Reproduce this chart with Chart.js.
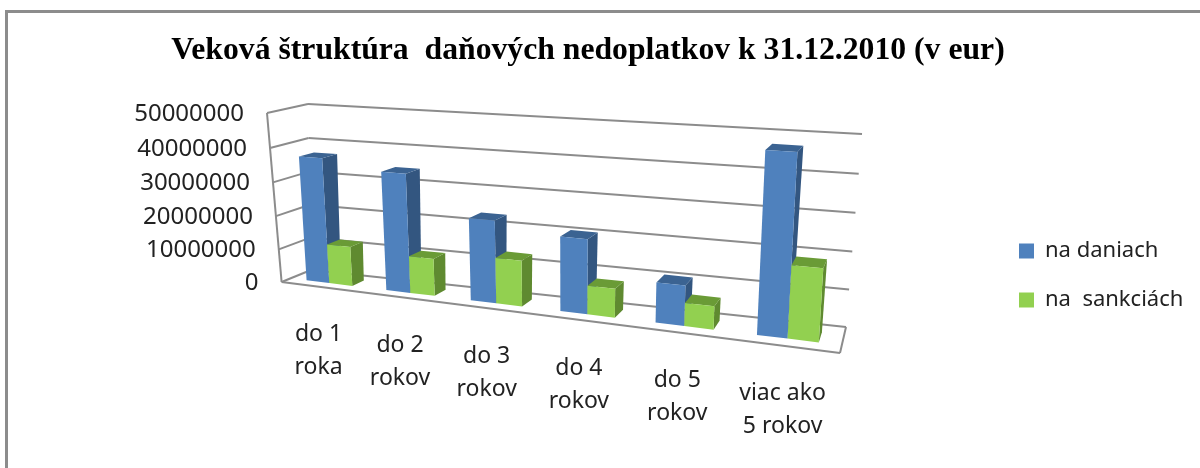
<!DOCTYPE html>
<html>
<head>
<meta charset="utf-8">
<style>
    html, body { margin: 0; padding: 0; background: #fff; overflow: hidden; }
    #ramec { position: absolute; left: 5px; top: 10px; width: 1300px; height: 600px; border: 3px solid #8c8c8c; }
    #graf { position: absolute; left: 0; top: 0; }
</style>
<script src="https://cdn.jsdelivr.net/npm/chart.js@4/dist/chart.umd.min.js"></script>
</head>
<body>
<div id="ramec"></div>
<canvas id="graf" width="1200" height="468"></canvas>
<script>
// Hodnoty odčítané z obrázka.
const kategorie = [['do 1', 'roka'], ['do 2', 'rokov'], ['do 3', 'rokov'], ['do 4', 'rokov'], ['do 5', 'rokov'], ['viac ako', '5 rokov']];
const naDaniach = [37000000, 34500000, 23500000, 20800000, 11000000, 47500000];
const naSankciach = [11700000, 10800000, 13000000, 8000000, 6300000, 19200000];
const nazovGrafu = 'Veková štruktúra  daňových nedoplatkov k 31.12.2010 (v eur)';

// Rohy krabice grafu v pixeloch: predná a zadná stena.
const predna = [[281.6, 282], [840, 353], [852, 150], [267, 113]];
const zadna = [[311, 270], [846, 327], [862, 134], [308, 104]];
const hlbkaStlpca = [0.3, 0.7];
const sivaCiara = '#8c8c8c';

// Homografia zo štvorca (u, v) na štvoruholník.
function homografia(q) {
    const [[x0, y0], [x1, y1], [x2, y2], [x3, y3]] = q;
    const dx1 = x1 - x2, dx2 = x3 - x2, sx = x0 - x1 + x2 - x3;
    const dy1 = y1 - y2, dy2 = y3 - y2, sy = y0 - y1 + y2 - y3;
    const det = dx1 * dy2 - dx2 * dy1;
    const g = (sx * dy2 - dx2 * sy) / det;
    const h = (dx1 * sy - sx * dy1) / det;
    return (u, v) => {
        const w = g * u + h * v + 1;
        return [
            ((x1 - x0 + g * x1) * u + (x3 - x0 + h * x3) * v + x0) / w,
            ((y1 - y0 + g * y1) * u + (y3 - y0 + h * y3) * v + y0) / w
        ];
    };
}
const hPredna = homografia(predna);
const hZadna = homografia(zadna);

// Bod v priestore grafu: u, v v rozsahu plochy grafu, d je hĺbka (0 vpredu, 1 vzadu).
function bod(u, v, d) {
    const a = hPredna(u, v), b = hZadna(u, v);
    return [a[0] + (b[0] - a[0]) * d, a[1] + (b[1] - a[1]) * d];
}

function plocha(ctx, body, farba) {
    ctx.beginPath();
    body.forEach((p, i) => i ? ctx.lineTo(p[0], p[1]) : ctx.moveTo(p[0], p[1]));
    ctx.closePath();
    ctx.fillStyle = farba;
    ctx.fill();
}

function ciara(ctx, a, b) {
    ctx.beginPath();
    ctx.moveTo(a[0], a[1]);
    ctx.lineTo(b[0], b[1]);
    ctx.stroke();
}

const graf3d = {
    id: 'graf3d',
    // Titulok a legendu umiestnime ako v predlohe.
    afterLayout(chart) {
        chart.titleBlock.left = 0;
        chart.titleBlock.right = 1176;
        chart.titleBlock.top = 22;
        chart.titleBlock.bottom = 62;
        chart.legend.left = 992;
        chart.legend.right = 1200;
        chart.legend.top = 213;
        chart.legend.bottom = 468;
    },
    // Stĺpce sa kreslia v perspektíve, pozície berú z elementov Chart.js.
    beforeDatasetsDraw(chart) {
        const { ctx, chartArea: ca, scales } = chart;
        const U = x => (x - ca.left) / (ca.right - ca.left);
        const V = y => (ca.bottom - y) / (ca.bottom - ca.top);
        const hodnotyY = scales.y.ticks;

        ctx.save();
        ctx.strokeStyle = sivaCiara;
        ctx.lineWidth = 2;
        hodnotyY.forEach(t => {
            const v = V(scales.y.getPixelForValue(t.value));
            ciara(ctx, bod(0, v, 0), bod(0, v, 1));
            ciara(ctx, bod(0, v, 1), bod(1, v, 1));
        });
        ciara(ctx, bod(0, 0, 0), bod(0, 1, 0));
        ciara(ctx, bod(0, 0, 0), bod(1, 0, 0));
        ciara(ctx, bod(1, 0, 0), bod(1, 0, 1));

        const [d0, d1] = hlbkaStlpca;
        kategorie.forEach((_, i) => {
            chart.data.datasets.forEach((ds, k) => {
                const el = chart.getDatasetMeta(k).data[i];
                const u0 = U(el.x - el.width / 2), u1 = U(el.x + el.width / 2);
                const v0 = V(el.base), v1 = V(el.y);
                plocha(ctx, [bod(u1, v0, d0), bod(u1, v0, d1), bod(u1, v1, d1), bod(u1, v1, d0)], ds.farbaBok);
                plocha(ctx, [bod(u0, v1, d0), bod(u1, v1, d0), bod(u1, v1, d1), bod(u0, v1, d1)], ds.farbaVrch);
                plocha(ctx, [bod(u0, v0, d0), bod(u1, v0, d0), bod(u1, v1, d0), bod(u0, v1, d0)], ds.backgroundColor);
            });
        });

        // Popisy osí podľa tickov mierok.
        ctx.fillStyle = '#222';
        ctx.font = '24px "Noto Sans"';
        ctx.textAlign = 'right';
        ctx.textBaseline = 'middle';
        hodnotyY.forEach(t => {
            const p = bod(0, V(scales.y.getPixelForValue(t.value)), 0);
            ctx.fillText(t.label, p[0] - 23, p[1] + 1);
        });
        ctx.font = '23px "Noto Sans"';
        ctx.textAlign = 'center';
        scales.x.ticks.forEach((t, i) => {
            const p = bod(U(scales.x.getPixelForTick(i)), 0, 0);
            [].concat(t.label).forEach((riadok, r) => {
                ctx.fillText(riadok, p[0] - 2, p[1] + 48 + r * 33);
            });
        });
        ctx.restore();
        return false;
    }
};

new Chart(document.getElementById('graf'), {
    type: 'bar',
    data: {
        labels: kategorie,
        datasets: [
            { label: 'na daniach', data: naDaniach, backgroundColor: '#4f81bd', farbaBok: '#335680', farbaVrch: '#3b6392' },
            { label: 'na  sankciách', data: naSankciach, backgroundColor: '#92d050', farbaBok: '#5f8a30', farbaVrch: '#6a9b36' }
        ]
    },
    plugins: [graf3d],
    options: {
        responsive: false,
        animation: false,
        layout: { padding: { left: 100, right: 100, top: 80, bottom: 60 } },
        datasets: { bar: { categoryPercentage: 0.58, barPercentage: 1 } },
        scales: {
            x: { display: false },
            y: { display: false, min: 0, max: 50000000, ticks: { stepSize: 10000000, callback: v => String(v) } }
        },
        plugins: {
            tooltip: { enabled: false },
            title: { display: true, text: nazovGrafu, color: '#000', font: { family: '"Liberation Serif"', size: 31.7, weight: 'bold' } },
            legend: {
                position: 'right',
                align: 'start',
                labels: { boxWidth: 15, boxHeight: 15, padding: 27, color: '#222', font: { family: '"Noto Sans"', size: 22 } }
            }
        }
    }
});
</script>
</body>
</html>
